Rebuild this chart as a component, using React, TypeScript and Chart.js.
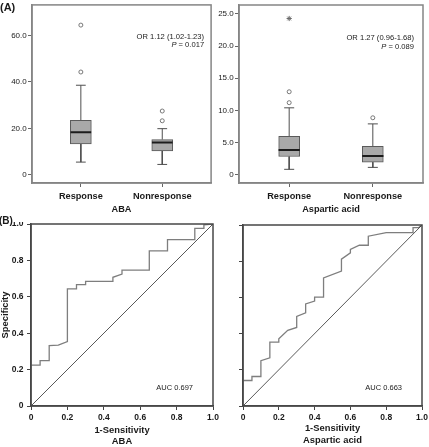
import React, { useEffect, useRef } from "react";
import { Chart, registerables } from "chart.js";

Chart.register(...registerables);

const FONT = "'Liberation Sans', Arial, Helvetica, sans-serif";
const TEXT = "#1a1a1a";

// ---------- Box plot data (A) ----------
const boxCategories = ["Response", "Nonresponse"];

const abaMin = [5.5, 4.5];
const abaQ1 = [13.3, 10.3];
const abaMedian = [18.4, 13.9];
const abaQ3 = [23.5, 15.2];
const abaMax = [38.6, 19.9];
const abaOutliers = [[44.3, 64.5], [23.3, 27.5]];
const abaExtremes: number[][] = [[], []];
const abaYTicks = [0, 20, 40, 60];
const abaTitle = "ABA";
const abaOrText = "OR 1.12 (1.02-1.23)";
const abaPText = "0.017";

const aspMin = [0.83, 1.13];
const aspQ1 = [2.82, 1.95];
const aspMedian = [3.83, 2.92];
const aspQ3 = [5.98, 4.4];
const aspMax = [10.4, 7.9];
const aspOutliers = [[11.2, 12.9], [8.85]];
const aspExtremes = [[24.3], []];
const aspYTicks = [0, 5, 10, 15, 20, 25];
const aspTitle = "Aspartic acid";
const aspOrText = "OR 1.27 (0.96-1.68)";
const aspPText = "0.089";

// ---------- ROC data (B) ----------
const rocTicks = [0, 0.2, 0.4, 0.6, 0.8, 1.0];
const rocXTitle = "1-Sensitivity";
const rocYTitle = "Specificity";

const abaRocX = [0, 0.05, 0.05, 0.1, 0.1, 0.15, 0.2, 0.2, 0.25, 0.25, 0.3, 0.3, 0.45, 0.45, 0.5, 0.5, 0.65, 0.65, 0.75, 0.75, 0.9, 0.9, 0.95, 0.95, 1];
const abaRocY = [0.225, 0.225, 0.249, 0.249, 0.332, 0.335, 0.354, 0.643, 0.643, 0.667, 0.667, 0.685, 0.685, 0.707, 0.725, 0.747, 0.747, 0.852, 0.852, 0.914, 0.914, 0.976, 0.976, 0.995, 1];
const abaAuc = "AUC 0.697";

const aspRocX = [0, 0.05, 0.05, 0.1, 0.1, 0.15, 0.15, 0.2, 0.2, 0.25, 0.3, 0.3, 0.35, 0.35, 0.4, 0.4, 0.45, 0.45, 0.55, 0.55, 0.6, 0.6, 0.65, 0.7, 0.7, 0.8, 0.95, 0.95, 0.98, 1];
const aspRocY = [0.141, 0.141, 0.163, 0.163, 0.25, 0.266, 0.353, 0.353, 0.371, 0.418, 0.434, 0.495, 0.515, 0.564, 0.58, 0.601, 0.601, 0.708, 0.745, 0.811, 0.846, 0.865, 0.888, 0.888, 0.938, 0.958, 0.958, 0.985, 0.985, 1];
const aspAuc = "AUC 0.663";

const diagonalX = [0, 1];
const diagonalY = [0, 1];

// ---------- helpers ----------
type Pt = { x: number; y: number | null };

function framePlugin(color: string, width: number) {
  return {
    id: "frame",
    afterDraw(chart: any) {
      const { ctx, chartArea } = chart;
      ctx.save();
      ctx.strokeStyle = color;
      ctx.lineWidth = width;
      ctx.strokeRect(chartArea.left, chartArea.top, chartArea.right - chartArea.left, chartArea.bottom - chartArea.top);
      ctx.restore();
    },
  };
}

type NoteLine = { italic?: string; text: string; dx: number; dy: number; fromBottom?: boolean };

function notesPlugin(lines: NoteLine[], size: number) {
  return {
    id: "notes",
    afterDraw(chart: any) {
      const { ctx, chartArea } = chart;
      ctx.save();
      ctx.fillStyle = TEXT;
      ctx.textBaseline = "middle";
      ctx.textAlign = "left";
      lines.forEach((l) => {
        const y = l.fromBottom ? chartArea.bottom - l.dy : chartArea.top + l.dy;
        const right = chartArea.right - l.dx;
        ctx.font = `${size}px ${FONT}`;
        const wText = ctx.measureText(l.text).width;
        let wItalic = 0;
        if (l.italic) {
          ctx.font = `italic ${size}px ${FONT}`;
          wItalic = ctx.measureText(l.italic).width;
        }
        const start = right - wText - wItalic;
        if (l.italic) {
          ctx.font = `italic ${size}px ${FONT}`;
          ctx.fillText(l.italic, start, y);
        }
        ctx.font = `${size}px ${FONT}`;
        ctx.fillText(l.text, start + wItalic, y);
      });
      ctx.restore();
    },
  };
}

function fixSize(dim: "width" | "height", value: number) {
  return (s: any) => {
    s[dim] = value;
    s.paddingLeft = 0;
    s.paddingRight = 0;
    s.paddingTop = 0;
    s.paddingBottom = 0;
  };
}

function boxConfig(
  mins: number[], q1s: number[], meds: number[], q3s: number[], maxs: number[],
  outliers: number[][], extremes: number[][], yTicks: number[], yMin: number, yMax: number,
  title: string, orText: string, pText: string,
  pad: { left: number; top: number; right: number; bottom: number }, yWidth: number, notePos: { dx: number; dy1: number; dy2: number }
): any {
  const HALF = 0.127;
  const CAP = 0.06;
  const whiskers: Pt[] = [];
  const medians: Pt[] = [];
  const outPts: Pt[] = [];
  const extPts: Pt[] = [];
  q1s.forEach((_, i) => {
    const x = i + 1;
    whiskers.push(
      { x, y: q3s[i] }, { x, y: maxs[i] }, { x, y: null },
      { x: x - CAP, y: maxs[i] }, { x: x + CAP, y: maxs[i] }, { x, y: null },
      { x, y: q1s[i] }, { x, y: mins[i] }, { x, y: null },
      { x: x - CAP, y: mins[i] }, { x: x + CAP, y: mins[i] }, { x, y: null }
    );
    medians.push({ x: x - HALF, y: meds[i] }, { x: x + HALF, y: meds[i] }, { x, y: null });
    outliers[i].forEach((v) => outPts.push({ x, y: v }));
    extremes[i].forEach((v) => extPts.push({ x, y: v }));
  });
  const boxes = q1s.map((q, i) => ({ x: i + 1, y: [q, q3s[i]] }));
  const axisColor = "#858585";
  return {
    type: "scatter",
    data: {
      datasets: [
        { type: "line", data: whiskers, borderColor: "#4f4f4f", borderWidth: 1, pointRadius: 0, spanGaps: false, fill: false, order: 3 },
        { type: "bar", data: boxes, backgroundColor: "#a9a9a9", borderColor: "#5a5a5a", borderWidth: 1, borderSkipped: false, barThickness: 21, order: 2 },
        { type: "line", data: medians, borderColor: "#1c1c1c", borderWidth: 2, pointRadius: 0, spanGaps: false, fill: false, order: 1 },
        { type: "scatter", data: outPts, pointStyle: "circle", pointRadius: 2, backgroundColor: "#ffffff", borderColor: "#6a6a6a", borderWidth: 0.9, order: 0 },
        { type: "scatter", data: extPts, pointStyle: "star", pointRadius: 2.6, backgroundColor: "#ffffff", borderColor: "#6a6a6a", borderWidth: 1, order: 0 },
      ],
    },
    options: {
      animation: false,
      responsive: false,
      events: [],
      layout: { padding: pad },
      plugins: { legend: { display: false }, tooltip: { enabled: false } },
      scales: {
        x: {
          type: "linear",
          min: 0.4,
          max: 2.6,
          offset: false,
          afterBuildTicks: (s: any) => { s.ticks = boxCategories.map((_, i) => ({ value: i + 1 })); },
          afterFit: fixSize("height", 39),
          ticks: {
            autoSkip: false, maxRotation: 0, padding: 3.5, color: TEXT,
            font: { family: FONT, size: 9.2, weight: "bold" },
            callback: (v: number) => boxCategories[Math.round(v) - 1] ?? "",
          },
          grid: { display: true, offset: false, drawOnChartArea: false, drawTicks: true, tickLength: 4, color: "#666" },
          border: { display: true, color: axisColor, width: 1.5 },
          title: { display: true, text: title, color: TEXT, font: { family: FONT, size: 9.2, weight: "bold" }, padding: { top: 0, bottom: 7.2 } },
        },
        y: {
          type: "linear",
          min: yMin,
          max: yMax,
          beginAtZero: false,
          afterBuildTicks: (s: any) => { s.ticks = yTicks.map((v) => ({ value: v })); },
          afterFit: fixSize("width", yWidth),
          ticks: {
            autoSkip: false, padding: 1.3, color: TEXT,
            font: { family: FONT, size: 8 },
            callback: (v: number) => (v === 0 ? "0" : v.toFixed(1)),
          },
          grid: { display: true, drawOnChartArea: false, drawTicks: true, tickLength: 4, color: "#666" },
          border: { display: true, color: axisColor, width: 1.5 },
        },
      },
    },
    plugins: [
      framePlugin(axisColor, 1.5),
      notesPlugin([
        { text: orText, dx: notePos.dx, dy: notePos.dy1 },
        { italic: "P", text: " = " + pText, dx: notePos.dx, dy: notePos.dy2 },
      ], 7.6),
    ],
  };
}

function rocConfig(
  xs: number[], ys: number[], auc: string, subTitle: string, showYLabels: boolean,
  pad: { left: number; top: number; right: number; bottom: number }, yWidth: number, titleLineHeight: number
): any {
  const curve = xs.map((x, i) => ({ x, y: ys[i] }));
  const diag = diagonalX.map((x, i) => ({ x, y: diagonalY[i] }));
  const axisColor = "#474747";
  const tickFont = { family: FONT, size: 8.5, weight: "bold" };
  const fmt = (v: number) => (v === 0 ? "0" : v.toFixed(1));
  return {
    type: "scatter",
    data: {
      datasets: [
        { data: diag, showLine: true, borderColor: "#2e2e2e", borderWidth: 0.8, pointRadius: 0, fill: false },
        { data: curve, showLine: true, borderColor: "#7e7e7e", borderWidth: 1.3, pointRadius: 0, fill: false, tension: 0 },
      ],
    },
    options: {
      animation: false,
      responsive: false,
      events: [],
      layout: { padding: pad },
      plugins: { legend: { display: false }, tooltip: { enabled: false } },
      scales: {
        x: {
          type: "linear",
          min: 0,
          max: 1,
          afterBuildTicks: (s: any) => { s.ticks = rocTicks.map((v) => ({ value: v })); },
          afterFit: fixSize("height", 41),
          ticks: { autoSkip: false, maxRotation: 0, padding: 2.2, color: TEXT, font: tickFont, callback: fmt },
          grid: { display: true, drawOnChartArea: false, drawTicks: true, tickLength: 4, color: "#444" },
          border: { display: true, color: axisColor, width: 1.5 },
          title: {
            display: true, text: [rocXTitle, subTitle], color: TEXT,
            font: { family: FONT, size: 9.4, weight: "bold", lineHeight: titleLineHeight },
            padding: { top: 0, bottom: 0 },
          },
        },
        y: {
          type: "linear",
          min: 0,
          max: 1,
          afterBuildTicks: (s: any) => { s.ticks = rocTicks.map((v) => ({ value: v })); },
          afterFit: fixSize("width", yWidth),
          ticks: { display: showYLabels, autoSkip: false, padding: 3.5, color: TEXT, font: tickFont, callback: fmt },
          grid: { display: true, drawOnChartArea: false, drawTicks: true, tickLength: 4, color: "#444" },
          border: { display: true, color: axisColor, width: 1.5 },
          title: {
            display: showYLabels, text: rocYTitle, color: TEXT,
            font: { family: FONT, size: 9.4, weight: "bold", lineHeight: 1.05 },
            padding: { top: 0, bottom: 0 },
          },
        },
      },
    },
    plugins: [
      framePlugin(axisColor, 1.5),
      notesPlugin([{ text: auc, dx: 20, dy: 17.7, fromBottom: true }], 7.5),
    ],
  };
}

function ChartPanel(props: { left: number; top: number; width: number; height: number; make: () => any }) {
  const ref = useRef<HTMLCanvasElement>(null);
  useEffect(() => {
    const chart = new Chart(ref.current as HTMLCanvasElement, props.make());
    return () => chart.destroy();
  }, []);
  return (
    <canvas
      ref={ref}
      width={props.width}
      height={props.height}
      style={{ position: "absolute", left: props.left, top: props.top, width: props.width, height: props.height }}
    />
  );
}

const panelLabel: React.CSSProperties = {
  position: "absolute",
  fontFamily: FONT,
  fontWeight: "bold",
  fontSize: 11,
  lineHeight: "12px",
  color: TEXT,
  zIndex: 2,
};

export default function App() {
  return (
    <div style={{ position: "fixed", left: 0, top: 0, width: 429, height: 447, background: "#ffffff", overflow: "hidden" }}>
      <ChartPanel
        left={0} top={0} width={216} height={222}
        make={() => boxConfig(abaMin, abaQ1, abaMedian, abaQ3, abaMax, abaOutliers, abaExtremes, abaYTicks, -3.5, 73.2,
          abaTitle, abaOrText, abaPText, { left: 0, top: 3, right: 3, bottom: 0 }, 32, { dx: 7, dy1: 31.7, dy2: 40.3 })}
      />
      <ChartPanel
        left={216} top={0} width={213} height={222}
        make={() => boxConfig(aspMin, aspQ1, aspMedian, aspQ3, aspMax, aspOutliers, aspExtremes, aspYTicks, -1.3, 26.4,
          aspTitle, aspOrText, aspPText, { left: 0, top: 3, right: 6, bottom: 0 }, 23, { dx: 9, dy1: 32.7, dy2: 41.7 })}
      />
      <ChartPanel
        left={0} top={222} width={222} height={225}
        make={() => rocConfig(abaRocX, abaRocY, abaAuc, abaTitle, true, { left: 0, top: 2, right: 9, bottom: 0 }, 31, 1.15)}
      />
      <ChartPanel
        left={222} top={222} width={207} height={225}
        make={() => rocConfig(aspRocX, aspRocY, aspAuc, aspTitle, false, { left: 0, top: 3, right: 7, bottom: 0 }, 21, 1.3)}
      />
      <div style={{ ...panelLabel, left: 0, top: 1 }}>(A)</div>
      <div style={{ ...panelLabel, left: -1, top: 215, fontSize: 10 }}>(B)</div>
    </div>
  );
}
